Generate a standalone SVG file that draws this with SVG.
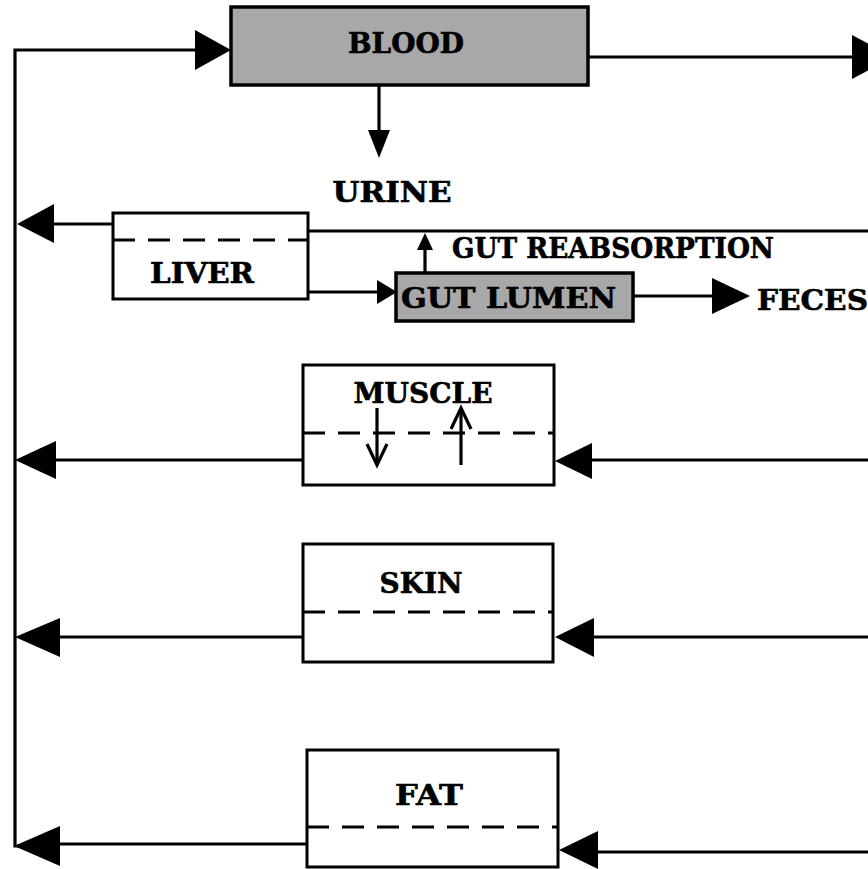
<svg xmlns="http://www.w3.org/2000/svg" width="868" height="869" viewBox="0 0 868 869">
<style>
.box{fill:#fff;stroke:#000;stroke-width:3}
.gray{fill:#a8a8a8;stroke:#000;stroke-width:3.5}
.dash{stroke:#000;stroke-width:3;stroke-dasharray:22 13;fill:none}
.ln{stroke:#000;stroke-width:3.2;fill:none}
.hd{fill:#000}
text{font-family:"DejaVu Serif","Liberation Serif",serif;font-weight:bold;font-size:27px;fill:#000;stroke:#000;stroke-width:0.6}
</style>
<rect width="868" height="869" fill="#fff"/>
<g id="connectors">
<polyline class="ln" points="198,50 15,50 15,846 50,846"/>
<polygon class="hd" points="231,50 195,30 195,70"/>
<line class="ln" x1="588" y1="57" x2="860" y2="57"/>
<polygon class="hd" points="893,57 852,35 852,79"/>
<line class="ln" x1="379" y1="86" x2="379" y2="135"/>
<polygon class="hd" points="379,158 368,130 390,130"/>
<line class="ln" x1="113" y1="224" x2="50" y2="224"/>
<polygon class="hd" points="17,224 54,204 54,243"/>
<line class="ln" x1="308" y1="231" x2="868" y2="231"/>
<line class="ln" x1="425" y1="273" x2="425" y2="245"/>
<polygon class="hd" points="425,233 417,250 433,250"/>
<line class="ln" x1="308" y1="292" x2="380" y2="292"/>
<polygon class="hd" points="397,292 377,280 377,304"/>
<line class="ln" x1="633" y1="296" x2="720" y2="296"/>
<polygon class="hd" points="750,296 712,278 712,314"/>
<line class="ln" x1="302" y1="460" x2="50" y2="460"/>
<polygon class="hd" points="15,460 56,441 56,479"/>
<line class="ln" x1="868" y1="460" x2="585" y2="460"/>
<polygon class="hd" points="555,461 592,443 592,479"/>
<line class="ln" x1="302" y1="637" x2="50" y2="637"/>
<polygon class="hd" points="15,637 60,618 60,657"/>
<line class="ln" x1="868" y1="637" x2="585" y2="637"/>
<polygon class="hd" points="555,637 594,618 594,657"/>
<polygon class="hd" points="14,846 60,826 60,866"/>
<line class="ln" x1="307" y1="844" x2="55" y2="844"/>
<line class="ln" x1="868" y1="852" x2="590" y2="852"/>
<polygon class="hd" points="559,850 598,831 598,869"/>
</g>
<g id="blood">
<rect class="gray" x="231" y="7" width="357" height="78"/>
<text x="406" y="53" text-anchor="middle" textLength="116" lengthAdjust="spacingAndGlyphs">BLOOD</text>
</g>
<g id="urine">
<text x="392" y="202" text-anchor="middle" textLength="119" lengthAdjust="spacingAndGlyphs">URINE</text>
</g>
<g id="liver">
<rect class="box" x="113" y="213" width="195" height="86"/>
<line class="dash" x1="113" y1="240" x2="308" y2="240"/>
<text x="202" y="283" text-anchor="middle" textLength="104" lengthAdjust="spacingAndGlyphs">LIVER</text>
</g>
<g id="gut-reabsorption">
<text x="452" y="258" textLength="322" lengthAdjust="spacingAndGlyphs">GUT REABSORPTION</text>
</g>
<g id="gut-lumen">
<rect class="gray" x="396" y="273" width="237" height="48"/>
<text x="401" y="308" textLength="215" lengthAdjust="spacingAndGlyphs">GUT LUMEN</text>
</g>
<g id="feces">
<text x="757" y="310" textLength="111" lengthAdjust="spacingAndGlyphs">FECES</text>
</g>
<g id="muscle">
<rect class="box" x="303" y="365" width="251" height="120"/>
<line class="dash" x1="303" y1="433" x2="554" y2="433"/>
<text x="423" y="403" text-anchor="middle" textLength="139" lengthAdjust="spacingAndGlyphs">MUSCLE</text>
<line class="ln" x1="377" y1="408" x2="377" y2="465"/>
<polyline class="ln" points="367,444 377,465 387,444"/>
<line class="ln" x1="461" y1="465" x2="461" y2="410"/>
<polyline class="ln" points="451,429 461,408 471,429"/>
</g>
<g id="skin">
<rect class="box" x="303" y="544" width="250" height="118"/>
<line class="dash" x1="303" y1="612" x2="553" y2="612"/>
<text x="421" y="593" text-anchor="middle" textLength="83" lengthAdjust="spacingAndGlyphs">SKIN</text>
</g>
<g id="fat">
<rect class="box" x="307" y="750" width="251" height="117"/>
<line class="dash" x1="307" y1="827" x2="558" y2="827"/>
<text x="429" y="805" text-anchor="middle" textLength="68" lengthAdjust="spacingAndGlyphs">FAT</text>
</g>
</svg>
